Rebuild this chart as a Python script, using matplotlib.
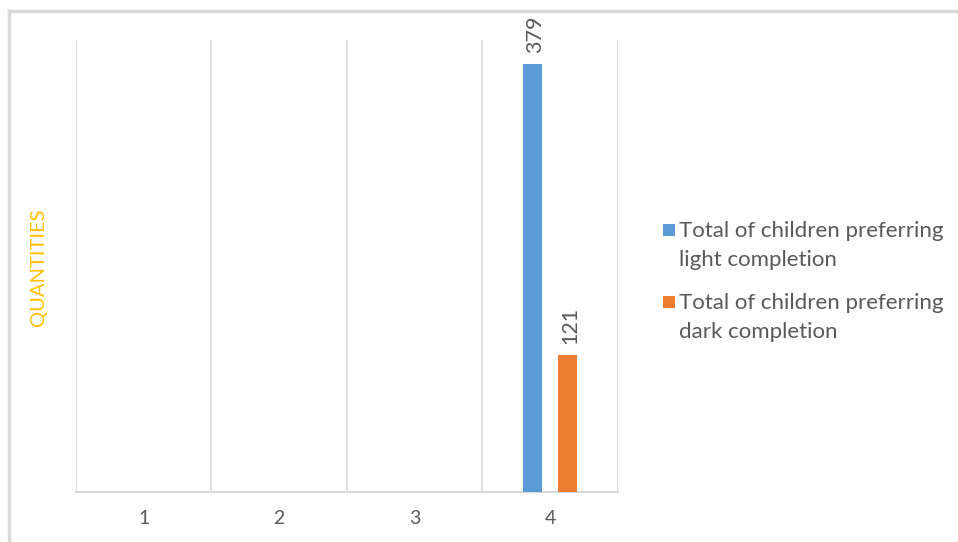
import matplotlib
matplotlib.use("Agg")
import matplotlib.pyplot as plt
from matplotlib.lines import Line2D
from matplotlib.patches import Rectangle
import numpy as np

categories = ["1", "2", "3", "4"]
light_values = [0, 0, 0, 379]
dark_values = [0, 0, 0, 121]
series_names = [["Total of children preferring", "light completion"],
                ["Total of children preferring", "dark completion"]]

BLUE = "#5B9BD5"
ORANGE = "#ED7D31"
GRID = "#D9D9D9"
TEXT = "#595959"
FONT = "Lato"

W, H = 958, 542
fig = plt.figure(figsize=(W / 100, H / 100), dpi=100)
ax = fig.add_axes([0.0793, 0.0923, 0.5658, 0.8339])

x = np.arange(len(categories))
width = 0.14
offset = 0.13
bars_l = ax.bar(x - offset, light_values, width, color=BLUE, zorder=3)
bars_d = ax.bar(x + offset, dark_values, width, color=ORANGE, zorder=3)

# value labels above the non-empty bars
for bars, vals in ((bars_l, light_values), (bars_d, dark_values)):
    for b, v in zip(bars, vals):
        if v > 0:
            ax.annotate(str(v), (b.get_x() + b.get_width() / 2, v),
                        xytext=(1.5, 8), textcoords="offset points",
                        rotation=90, ha="center", va="bottom",
                        fontsize=15.5, color=TEXT, family=FONT)

ax.set_xlim(-0.5, len(categories) - 0.5)
ax.set_ylim(0, 400)
ax.set_xticks(x)
ax.set_xticklabels(categories, family=FONT, fontsize=14, color=TEXT)
ax.tick_params(axis="x", length=0, pad=13)
ax.set_yticks([])

# category separators
for b in np.arange(-0.5, len(categories), 1.0):
    ax.axvline(b, color=GRID, lw=1.2, zorder=1)

for s in ("top", "right", "left"):
    ax.spines[s].set_visible(False)
ax.spines["bottom"].set_color(GRID)
ax.spines["bottom"].set_linewidth(1.5)

fig.text(38 / W, 1 - 267 / H, "QUANTITIES", rotation=90, ha="center",
         va="center", color="#FFC000", fontsize=14.5, family=FONT)

# legend: colour square beside the first line of each wrapped label
colors = [BLUE, ORANGE]
first_baselines = [237, 309]
line_step = 29
for col, lines, y0 in zip(colors, series_names, first_baselines):
    fig.add_artist(Rectangle((663 / W, 1 - (y0 - 1) / H), 12 / W, 12 / H,
                             transform=fig.transFigure, color=col,
                             linewidth=0))
    for i, line in enumerate(lines):
        fig.text(679 / W, 1 - (y0 + i * line_step) / H, line, ha="left",
                 va="baseline", fontsize=16, color=TEXT, family=FONT)

# chart frame (top and left edges)
fig.add_artist(Line2D([0.0094, 1.0], [0.980, 0.980], color=GRID, lw=2.5,
                      transform=fig.transFigure))
fig.add_artist(Line2D([0.0094, 0.0094], [0.0, 0.980], color=GRID, lw=2.5,
                      transform=fig.transFigure))

fig.savefig("out.png", dpi=100)
